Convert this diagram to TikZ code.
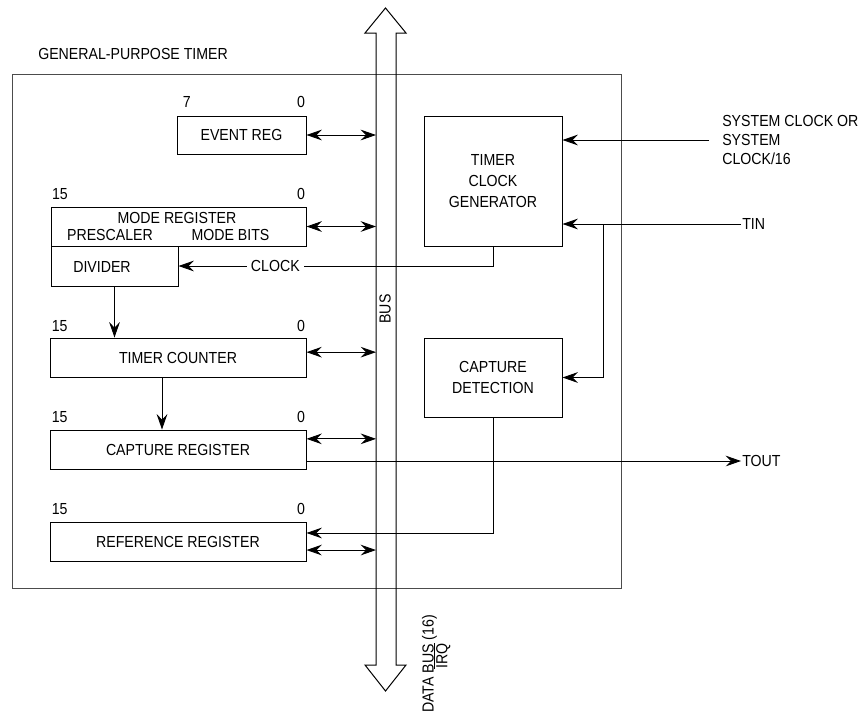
\documentclass[tikz,border=0pt]{standalone}
\usepackage{fontspec}
\setmainfont{Liberation Sans}[FakeStretch=0.885]
\usetikzlibrary{arrows.meta}

\begin{document}
\begin{tikzpicture}[x=0.75pt,y=0.75pt,yscale=-1,xscale=1,
  >={Stealth[length=11.5pt,width=8pt,inset=4pt]},
  every node/.style={font=\fontsize{12}{16}\selectfont, inner sep=0.75pt},
  regbox/.style={draw, line width=0.75pt, inner sep=0pt, minimum height=29.25pt, align=center},
  bitno/.style={inner sep=0pt},
  link/.style={line width=0.65pt},
]
\useasboundingbox (0,0) rectangle (862,715);

%Shape: Rectangle (timer block)
\draw [color=black!70, line width=0.75pt] (12,74) rectangle (621,588);
%Shape: Bus
\draw [line width=0.75pt] (376,33) -- (365,33) -- (385.5,8) -- (406,33) -- (396,33) -- (396,665) -- (406,665) -- (385.5,691) -- (365,665) -- (376,665) -- cycle;
\coordinate (busl) at (376,0);
\coordinate (split) at (603,0);

% Text Node
\node [anchor=west] (gpt) at (37,54) {GENERAL-PURPOSE TIMER};
\node [rotate=90] (bus) at (385,309) {BUS};
\node [rotate=90, anchor=west, inner sep=0pt] (dbus) at (429.5,713) {DATA BUS (16)};
\node [rotate=90, inner sep=0pt] (irq) at (442,656) {$\overline{\mbox{IRQ}}$};

% Registers
\node [regbox, minimum width=96.75pt, minimum height=28.5pt] (evt) at (241.5,135) {EVENT REG};
\node [regbox, minimum width=191.25pt] (mode) at (178.5,226.5) {};
\node [regbox, minimum width=95.25pt, minimum height=30pt] (div) at (114.5,266) {};
\node [regbox, minimum width=192pt] (tc) at (178,357.5) {TIMER COUNTER};
\node [regbox, minimum width=192pt] (cap) at (178,449.5) {CAPTURE REGISTER};
\node [regbox, minimum width=192pt] (ref) at (178,541.5) {REFERENCE REGISTER};
\node [regbox, minimum width=103.5pt, minimum height=97.5pt] (tcg) at (493,181) {TIMER\\CLOCK\\GENERATOR};
\node [regbox, minimum width=103.5pt, minimum height=59.25pt] (cd) at (493,377.5) {CAPTURE\\DETECTION};

% Text Node
\node (modet) at (177,218) {MODE REGISTER};
\node (presc) at (110,235) {PRESCALER};
\node (mbits) at (230.5,235) {MODE BITS};
\node (divt) at (102,267) {DIVIDER};

% bit numbers (yshift runs downward here, yscale=-1)
\node [bitno, anchor=south west] (evthi) at ([xshift=4.5pt,yshift=-5.5pt]evt.north west) {7};
\node [bitno, anchor=south east] (evtlo) at ([xshift=-1pt,yshift=-5.5pt]evt.north east) {0};
\node [bitno, anchor=south west] (modehi) at ([xshift=1pt,yshift=-5pt]mode.north west) {15};
\node [bitno, anchor=south east] (modelo) at ([xshift=-1pt,yshift=-5pt]mode.north east) {0};
\node [bitno, anchor=south west] (tchi) at ([xshift=1.5pt,yshift=-4.5pt]tc.north west) {15};
\node [bitno, anchor=south east] (tclo) at ([xshift=-1pt,yshift=-4.5pt]tc.north east) {0};
\node [bitno, anchor=south west] (caphi) at ([xshift=1.5pt,yshift=-5pt]cap.north west) {15};
\node [bitno, anchor=south east] (caplo) at ([xshift=-1pt,yshift=-5pt]cap.north east) {0};
\node [bitno, anchor=south west] (refhi) at ([xshift=1.5pt,yshift=-5pt]ref.north west) {15};
\node [bitno, anchor=south east] (reflo) at ([xshift=-1pt,yshift=-5pt]ref.north east) {0};

% outside signals
\node [anchor=west, align=left, font=\fontsize{12}{14}\selectfont] (sysclk) at (721,140) {SYSTEM CLOCK OR\\SYSTEM\\CLOCK/16};
\node [anchor=west] (tin) at (741,224) {TIN};
\node [anchor=west] (tout) at (741,461) {TOUT};

% bus links
\draw [link, <->] (evt.east) -- (evt.east -| busl);
\draw [link, <->] (mode.east) -- (mode.east -| busl);
\draw [link, <->] ([yshift=-4pt]tc.east) -- ([yshift=-4pt]tc.east -| busl);
\draw [link, <->] ([yshift=-8pt]cap.east) -- ([yshift=-8pt]cap.east -| busl);
\draw [link, <->] ([yshift=6.4pt]ref.east) -- ([yshift=6.4pt]ref.east -| busl);

% clock path
\draw [link, ->] (tcg.south) |- (div.east) node [pos=0.846, fill=white, inner sep=3pt] (clk) {CLOCK};
\draw [link, ->] (div.south) -- (div.south |- tc.north);
\draw [link, ->] ([xshift=-12pt]tc.south) -- ([xshift=-12pt]tc.south |- cap.north);
\draw [link, ->] ([xshift=-9pt]sysclk.west) -- (sysclk.west -| tcg.east);
\draw [link, ->] (tin.west) -- (tin.west -| tcg.east);
\draw [link, ->] (tin.west -| split) |- (cd.east);
\draw [link, ->] (cd.south) |- ([yshift=-6.4pt]ref.east);
\draw [link, ->] (cap.east |- tout.west) -- (tout.west);

\end{tikzpicture}
\end{document}
